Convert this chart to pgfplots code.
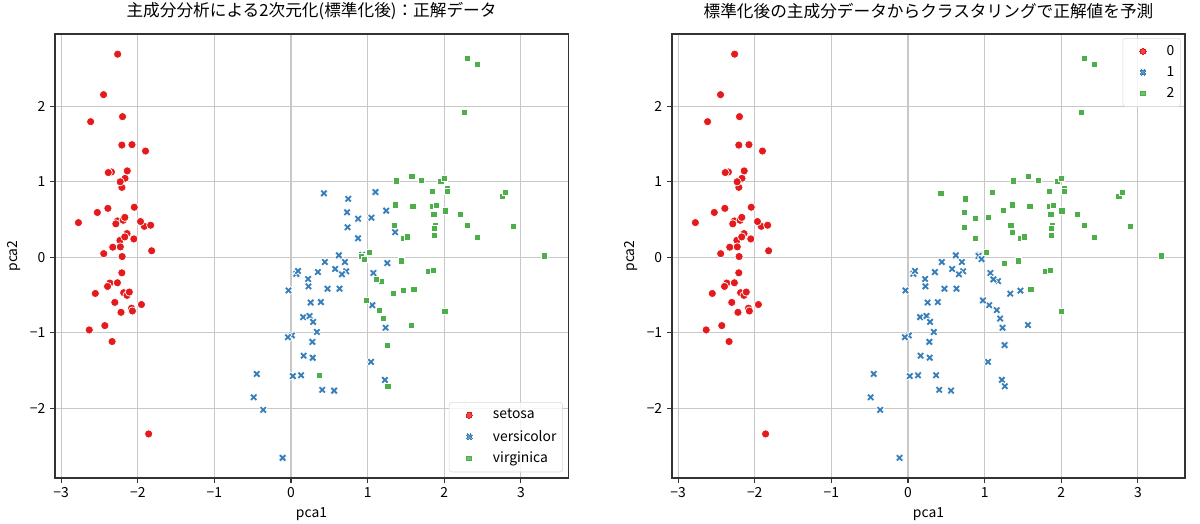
\documentclass[border=0pt]{standalone}
\usepackage{fontspec}
\setmainfont{Noto Sans CJK JP}
\usepackage{pgfplots}
\pgfplotsset{compat=1.18}

\definecolor{c0}{HTML}{E41A1C}
\definecolor{c1}{HTML}{377EB8}
\definecolor{c2}{HTML}{4DAF4A}
\definecolor{gridc}{HTML}{C8C8C8}

% filled X marker (seaborn style)
\pgfdeclareplotmark{Xf}{%
  \pgfpathmoveto{\pgfpoint{0.4714\pgfplotmarksize}{-0.9428\pgfplotmarksize}}%
  \pgfpathlineto{\pgfpoint{0.9428\pgfplotmarksize}{-0.4714\pgfplotmarksize}}%
  \pgfpathlineto{\pgfpoint{0.4714\pgfplotmarksize}{0pt}}%
  \pgfpathlineto{\pgfpoint{0.9428\pgfplotmarksize}{0.4714\pgfplotmarksize}}%
  \pgfpathlineto{\pgfpoint{0.4714\pgfplotmarksize}{0.9428\pgfplotmarksize}}%
  \pgfpathlineto{\pgfpoint{0pt}{0.4714\pgfplotmarksize}}%
  \pgfpathlineto{\pgfpoint{-0.4714\pgfplotmarksize}{0.9428\pgfplotmarksize}}%
  \pgfpathlineto{\pgfpoint{-0.9428\pgfplotmarksize}{0.4714\pgfplotmarksize}}%
  \pgfpathlineto{\pgfpoint{-0.4714\pgfplotmarksize}{0pt}}%
  \pgfpathlineto{\pgfpoint{-0.9428\pgfplotmarksize}{-0.4714\pgfplotmarksize}}%
  \pgfpathlineto{\pgfpoint{-0.4714\pgfplotmarksize}{-0.9428\pgfplotmarksize}}%
  \pgfpathlineto{\pgfpoint{0pt}{-0.4714\pgfplotmarksize}}%
  \pgfpathclose
  \pgfusepathqfillstroke
}

\tikzset{
  l0/.style={mark size=2.2pt, draw=c0, line width=0pt},
  l1/.style={mark size=2.2pt, draw=c1, line width=0pt},
  l2/.style={mark size=1.7pt, draw=c2, line width=0pt},
}

\pgfplotsset{
  irisax/.style={
    scale only axis, width=369.4pt, height=319.7pt,
    xmin=-3.08, xmax=3.615, ymin=-2.921, ymax=2.953,
    xtick={-3,...,3}, xticklabels={−3,−2,−1,0,1,2,3},
    ytick={-2,...,2}, yticklabels={−2,−1,0,1,2},
    grid=major, major grid style={gridc, line width=0.8pt},
    axis line style={line width=0.8pt, black!80},
    tick style={black!80, line width=0.8pt},
    tick align=outside, major tick length=3.5pt,
    xtick pos=bottom, ytick pos=left,
    ticklabel style={font=\fontsize{10}{12}\selectfont},
    xlabel={pca1}, ylabel={pca2},
    label style={font=\fontsize{10}{12}\selectfont},
    title style={font=\fontsize{12}{14}\selectfont, yshift=1pt},
    legend cell align=left,
    legend image code/.code={%
      \path (0cm,-0.1cm) (0.95cm,0.1cm);
      \draw[##1] plot coordinates {(0.42cm,0cm)};},
    legend style={draw=black!15, rounded corners=2pt, fill=white,
      fill opacity=0.8, text opacity=1, draw opacity=1,
      font=\fontsize{10}{12}\selectfont, inner xsep=2.5pt, inner ysep=3pt,
      row sep=2.5pt},
  },
  s0/.style={only marks, mark=*, mark size=2.95pt, fill=c0, draw=white, line width=0.5pt},
  s1/.style={only marks, mark=Xf, mark size=3.1pt, fill=c1, draw=white, line width=0.5pt},
  s2/.style={only marks, mark=square*, mark size=2.2pt, fill=c2, draw=white, line width=0.5pt},
}

\begin{document}
\begin{tikzpicture}
\useasboundingbox (-39.6pt,-32.4pt) rectangle (824.4pt,344.2pt);

% ---------- left: true species ----------
\begin{axis}[irisax,
  title={主成分分析による2次元化(標準化後)：正解データ},
  legend style={at={(0.99,0.013)}, anchor=south east},
]
\addplot[s0, legend image post style={l0}] coordinates {
(-2.2647,0.4800) (-2.0810,-0.6741) (-2.3642,-0.3419) (-2.2994,-0.5974)
(-2.3898,0.6468) (-2.0756,1.4892) (-2.4440,0.0476) (-2.2328,0.2231)
(-2.3346,-1.1153) (-2.1843,-0.4690) (-2.1663,1.0437) (-2.3261,0.1331)
(-2.2185,-0.7287) (-2.6331,-0.9615) (-2.1987,1.8601) (-2.2622,2.6863)
(-2.2076,1.4836) (-2.1904,0.4888) (-1.8986,1.4050) (-2.3434,1.1278)
(-1.9143,0.4089) (-2.2070,0.9241) (-2.7743,0.4583) (-1.8187,0.0856)
(-2.2272,0.1373) (-1.9518,-0.6256) (-2.0512,0.2422) (-2.1686,0.5272)
(-2.1396,0.3132) (-2.2653,-0.3377) (-2.1401,-0.5045) (-1.8316,0.4237)
(-2.6149,1.7936) (-2.4462,2.1507) (-2.1100,-0.4602) (-2.2078,-0.2061)
(-2.0451,0.6616) (-2.5273,0.5923) (-2.4296,-0.9042) (-2.1697,0.2689)
(-2.2865,0.4417) (-1.8581,-2.3374) (-2.5536,-0.4791) (-1.9644,0.4723)
(-2.1371,1.1422) (-2.0697,-0.7111) (-2.3847,1.1204) (-2.3944,-0.3862)
(-2.2294,0.9980) (-2.2038,0.0092)
};
\addlegendentry{setosa}
\addplot[s1, legend image post style={l1}] coordinates {
(1.1018,0.8630) (0.7313,0.5946) (1.2410,0.6163) (0.4075,-1.7544)
(1.0755,-0.2084) (0.3887,-0.5933) (0.7465,0.7730) (-0.4873,-1.8524)
(0.9279,0.0322) (0.0114,-1.0340) (-0.1098,-2.6541) (0.4410,-0.0633)
(0.5621,-1.7647) (0.7196,-0.1862) (-0.0334,-0.4390) (0.8754,0.5100)
(0.3503,-0.1963) (0.1588,-0.7921) (1.2251,-1.6224) (0.1647,-1.3026)
(0.7377,0.3966) (0.4763,-0.4173) (1.2341,-0.9333) (0.6327,-0.4164)
(0.7027,-0.0634) (0.8744,0.2508) (1.2565,-0.0773) (1.3584,0.3313)
(0.6648,-0.2253) (-0.0403,-1.0585) (0.1308,-1.5623) (0.0235,-1.5725)
(0.2415,-0.7773) (1.0611,-0.6338) (0.2240,-0.2878) (0.4291,0.8456)
(1.0491,0.5222) (1.0445,-1.3840) (0.0696,-0.2196) (0.2835,-1.3293)
(0.2791,-1.1200) (0.6246,0.0249) (0.3368,-0.9884) (-0.3622,-2.0192)
(0.2886,-0.8557) (0.0914,-0.1812) (0.2274,-0.3849) (0.5764,-0.1549)
(-0.4477,-1.5438) (0.2567,-0.5989)
};
\addlegendentry{versicolor}
\addplot[s2, legend image post style={l2}] coordinates {
(1.8446,0.8704) (1.1579,-0.6989) (2.2053,0.5620) (1.4402,-0.0470)
(1.8678,0.2950) (2.7519,0.8004) (0.3670,-1.5615) (2.3024,0.4201)
(2.0065,-0.7114) (2.2598,1.9210) (1.3642,0.6928) (1.6027,-0.4217)
(1.8839,0.4192) (1.2606,-1.1623) (1.4676,-0.4423) (1.5901,0.6762)
(1.4714,0.2556) (2.4263,2.5567) (3.3107,0.0178) (1.2638,-1.7067)
(2.0377,0.9105) (0.9780,-0.5718) (2.8977,0.4134) (1.3339,-0.4818)
(1.7007,1.0139) (1.9543,1.0078) (1.1751,-0.3164) (1.0210,0.0643)
(1.7883,-0.1874) (1.8636,0.5623) (2.4360,0.2593) (2.3049,2.6263)
(1.8627,-0.1785) (1.1143,-0.2929) (1.2023,-0.8113) (2.7988,0.8568)
(1.5763,1.0686) (1.3429,0.4221) (0.9202,0.0172) (1.8482,0.6767)
(2.0081,0.6139) (1.8954,0.6892) (1.1579,-0.6989) (2.0406,0.8675)
(1.9975,1.0492) (1.8705,0.3870) (1.5646,-0.8967) (1.5212,0.2691)
(1.3728,1.0113) (0.9607,-0.0243)
};
\addlegendentry{virginica}
\end{axis}

% ---------- right: k-means clusters ----------
\begin{axis}[irisax, at={(444.2pt,0pt)}, anchor=south west,
  title={標準化後の主成分データからクラスタリングで正解値を予測},
  legend style={at={(0.992,0.991)}, anchor=north east},
]
\addplot[s0, legend image post style={l0}] coordinates {
(-2.2647,0.4800) (-2.0810,-0.6741) (-2.3642,-0.3419) (-2.2994,-0.5974)
(-2.3898,0.6468) (-2.0756,1.4892) (-2.4440,0.0476) (-2.2328,0.2231)
(-2.3346,-1.1153) (-2.1843,-0.4690) (-2.1663,1.0437) (-2.3261,0.1331)
(-2.2185,-0.7287) (-2.6331,-0.9615) (-2.1987,1.8601) (-2.2622,2.6863)
(-2.2076,1.4836) (-2.1904,0.4888) (-1.8986,1.4050) (-2.3434,1.1278)
(-1.9143,0.4089) (-2.2070,0.9241) (-2.7743,0.4583) (-1.8187,0.0856)
(-2.2272,0.1373) (-1.9518,-0.6256) (-2.0512,0.2422) (-2.1686,0.5272)
(-2.1396,0.3132) (-2.2653,-0.3377) (-2.1401,-0.5045) (-1.8316,0.4237)
(-2.6149,1.7936) (-2.4462,2.1507) (-2.1100,-0.4602) (-2.2078,-0.2061)
(-2.0451,0.6616) (-2.5273,0.5923) (-2.4296,-0.9042) (-2.1697,0.2689)
(-2.2865,0.4417) (-1.8581,-2.3374) (-2.5536,-0.4791) (-1.9644,0.4723)
(-2.1371,1.1422) (-2.0697,-0.7111) (-2.3847,1.1204) (-2.3944,-0.3862)
(-2.2294,0.9980) (-2.2038,0.0092)
};
\addlegendentry{0}
\addplot[s1, legend image post style={l1}] coordinates {
(0.4075,-1.7544) (1.0755,-0.2084) (0.3887,-0.5933) (-0.4873,-1.8524)
(0.9279,0.0322) (0.0114,-1.0340) (-0.1098,-2.6541) (0.4410,-0.0633)
(0.5621,-1.7647) (0.7196,-0.1862) (-0.0334,-0.4390) (0.3503,-0.1963)
(0.1588,-0.7921) (1.2251,-1.6224) (0.1647,-1.3026) (0.4763,-0.4173)
(1.2341,-0.9333) (0.6327,-0.4164) (0.7027,-0.0634) (0.6648,-0.2253)
(-0.0403,-1.0585) (0.1308,-1.5623) (0.0235,-1.5725) (0.2415,-0.7773)
(1.0611,-0.6338) (0.2240,-0.2878) (1.0445,-1.3840) (0.0696,-0.2196)
(0.2835,-1.3293) (0.2791,-1.1200) (0.6246,0.0249) (0.3368,-0.9884)
(-0.3622,-2.0192) (0.2886,-0.8557) (0.0914,-0.1812) (0.2274,-0.3849)
(0.5764,-0.1549) (-0.4477,-1.5438) (0.2567,-0.5989)
(1.1579,-0.6989) (0.3670,-1.5615) (1.2606,-1.1623) (1.4676,-0.4423)
(1.2638,-1.7067) (0.9780,-0.5718) (1.3339,-0.4818) (1.1751,-0.3164)
(1.1143,-0.2929) (1.2023,-0.8113) (0.9202,0.0172) (1.1579,-0.6989)
(1.5646,-0.8967) (0.9607,-0.0243)
};
\addlegendentry{1}
\addplot[s2, legend image post style={l2}] coordinates {
(1.1018,0.8630) (0.7313,0.5946) (1.2410,0.6163) (0.7465,0.7730)
(0.8754,0.5100) (0.7377,0.3966) (0.8744,0.2508) (1.2565,-0.0773)
(1.3584,0.3313) (0.4291,0.8456) (1.0491,0.5222)
(1.8446,0.8704) (2.2053,0.5620) (1.4402,-0.0470)
(1.8678,0.2950) (2.7519,0.8004) (2.3024,0.4201)
(2.0065,-0.7114) (2.2598,1.9210) (1.3642,0.6928) (1.6027,-0.4217)
(1.8839,0.4192) (1.5901,0.6762)
(1.4714,0.2556) (2.4263,2.5567) (3.3107,0.0178)
(2.0377,0.9105) (2.8977,0.4134)
(1.7007,1.0139) (1.9543,1.0078) (1.0210,0.0643)
(1.7883,-0.1874) (1.8636,0.5623) (2.4360,0.2593) (2.3049,2.6263)
(1.8627,-0.1785) (2.7988,0.8568)
(1.5763,1.0686) (1.3429,0.4221) (1.8482,0.6767)
(2.0081,0.6139) (1.8954,0.6892) (2.0406,0.8675)
(1.9975,1.0492) (1.8705,0.3870) (1.5212,0.2691)
(1.3728,1.0113)
};
\addlegendentry{2}
\end{axis}
\end{tikzpicture}
\end{document}
